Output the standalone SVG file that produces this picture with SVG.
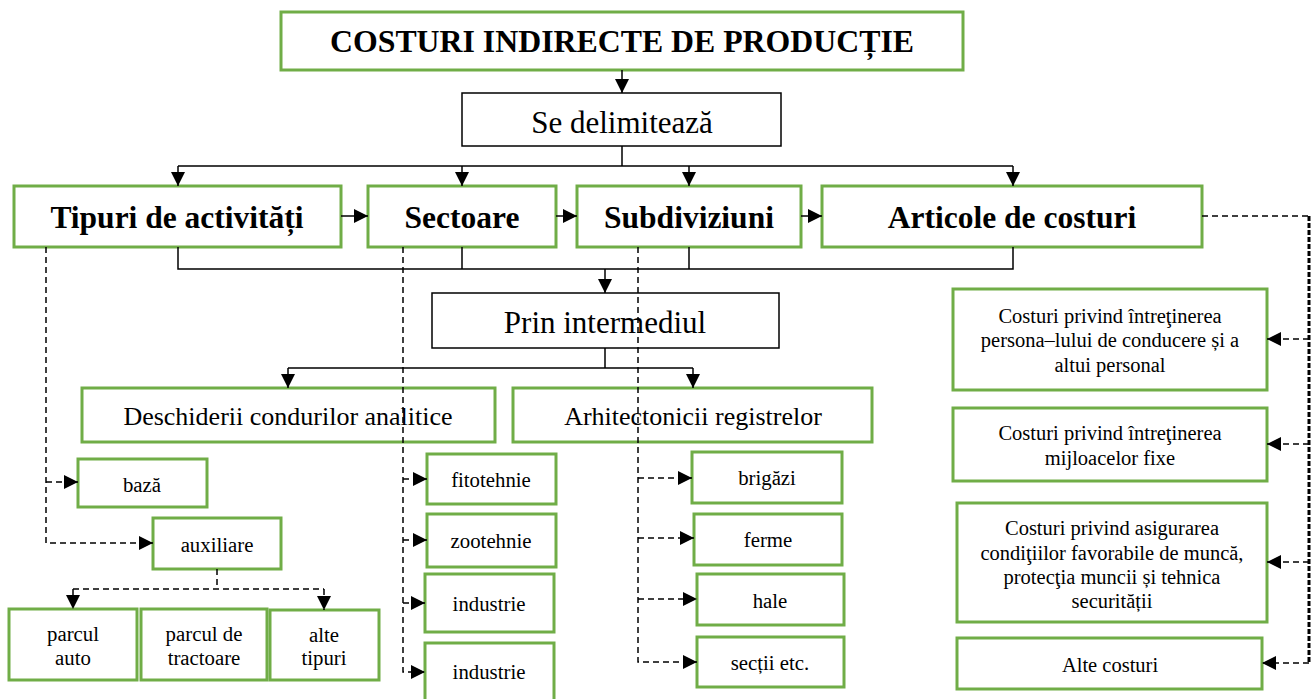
<svg xmlns="http://www.w3.org/2000/svg" width="1316" height="699" viewBox="0 0 1316 699">
<defs>
<marker id="ah" markerUnits="userSpaceOnUse" markerWidth="15" markerHeight="14" refX="14" refY="7" orient="auto">
<path d="M0,0 L14,7 L0,14 Z" fill="#000"/>
</marker>
<style>
.g{fill:#fff;stroke:#70ad47;stroke-width:3}
.b{fill:#fff;stroke:#000;stroke-width:1.5}
text{font-family:"Liberation Serif","Times New Roman",serif;fill:#000;text-anchor:middle}
.t1{font-size:31.8px;font-weight:bold}
.t2{font-size:31.5px;font-weight:bold}
.t3{font-size:31px}
.t4{font-size:26px}
.t5{font-size:20.8px}
.t6{font-size:20.5px}
.s{fill:none;stroke:#000;stroke-width:1.5}
.d{fill:none;stroke:#000;stroke-width:1.5;stroke-dasharray:6,4}
.dv{fill:none;stroke:#000;stroke-width:3;stroke-dasharray:5,2}
</style>
</defs>
<rect width="1316" height="699" fill="#fff"/>
<g id="nodes">
<g id="n-title"><rect class="g" x="281" y="12" width="682" height="58"/><text class="t1" x="622" y="52">COSTURI INDIRECTE DE PRODUCȚIE</text></g>
<g id="n-delim"><rect class="b" x="462" y="93" width="319" height="53"/><text class="t3" x="622" y="133">Se delimitează</text></g>
<g id="n-tipuri"><rect class="g" x="14" y="186" width="327" height="61"/><text class="t2" x="177" y="228">Tipuri de activități</text></g>
<g id="n-sectoare"><rect class="g" x="368" y="186" width="188" height="61"/><text class="t2" x="462" y="228">Sectoare</text></g>
<g id="n-subdiv"><rect class="g" x="577" y="186" width="224" height="61"/><text class="t2" x="689" y="228">Subdiviziuni</text></g>
<g id="n-articole"><rect class="g" x="822" y="186" width="380" height="61"/><text class="t2" x="1012" y="228">Articole de costuri</text></g>
<g id="n-prin"><rect class="b" x="432" y="293" width="347" height="55"/><text class="t3" x="605" y="333">Prin intermediul</text></g>
<g id="n-desch"><rect class="g" x="82" y="388" width="413" height="54"/><text class="t4" x="288" y="425">Deschiderii condurilor analitice</text></g>
<g id="n-arhit"><rect class="g" x="513" y="388" width="359" height="54"/><text class="t4" x="693" y="425">Arhitectonicii registrelor</text></g>
<g id="n-baza"><rect class="g" x="78" y="459" width="129" height="48"/><text class="t5" x="142" y="492">bază</text></g>
<g id="n-aux"><rect class="g" x="153" y="518" width="128" height="51"/><text class="t5" x="217" y="552">auxiliare</text></g>
<g id="n-pauto"><rect class="g" x="9" y="609" width="128" height="71"/><text class="t5" x="73" y="641">parcul</text><text class="t5" x="73" y="665">auto</text></g>
<g id="n-ptract"><rect class="g" x="141" y="609" width="126" height="71"/><text class="t5" x="204" y="641">parcul de</text><text class="t5" x="204" y="665">tractoare</text></g>
<g id="n-alte"><rect class="g" x="270" y="610" width="109" height="70"/><text class="t5" x="324" y="642">alte</text><text class="t5" x="324" y="665">tipuri</text></g>
<g id="n-fito"><rect class="g" x="427" y="454" width="129" height="50"/><text class="t5" x="491" y="487">fitotehnie</text></g>
<g id="n-zoo"><rect class="g" x="427" y="514" width="129" height="53"/><text class="t5" x="491" y="548">zootehnie</text></g>
<g id="n-ind1"><rect class="g" x="425" y="574" width="129" height="58"/><text class="t5" x="489" y="611">industrie</text></g>
<g id="n-ind2"><rect class="g" x="425" y="643" width="129" height="60"/><text class="t5" x="489" y="679">industrie</text></g>
<g id="n-brig"><rect class="g" x="692" y="452" width="150" height="51"/><text class="t5" x="767" y="485">brigăzi</text></g>
<g id="n-ferme"><rect class="g" x="694" y="514" width="148" height="51"/><text class="t5" x="768" y="547">ferme</text></g>
<g id="n-hale"><rect class="g" x="697" y="574" width="147" height="51"/><text class="t5" x="770" y="608">hale</text></g>
<g id="n-sectii"><rect class="g" x="697" y="637" width="147" height="50"/><text class="t5" x="770" y="670">secții etc.</text></g>
<g id="n-c1"><rect class="g" x="953" y="289" width="314" height="101"/><text class="t6" x="1110" y="323">Costuri privind întreţinerea</text><text class="t6" x="1110" y="347">persona–lului de conducere și a</text><text class="t6" x="1110" y="372">altui personal</text></g>
<g id="n-c2"><rect class="g" x="953" y="408" width="314" height="73"/><text class="t6" x="1110" y="440">Costuri privind întreţinerea</text><text class="t6" x="1110" y="465">mijloacelor fixe</text></g>
<g id="n-c3"><rect class="g" x="957" y="503" width="310" height="119"/><text class="t6" x="1112" y="535">Costuri privind asigurarea</text><text class="t6" x="1112" y="560">condiţiilor favorabile de muncă,</text><text class="t6" x="1112" y="584">protecţia muncii și tehnica</text><text class="t6" x="1112" y="608">securității</text></g>
<g id="n-c4"><rect class="g" x="957" y="638" width="305" height="51"/><text class="t6" x="1110" y="672">Alte costuri</text></g>
</g>
<g id="connectors">
<path class="s" d="M622,70 V93" marker-end="url(#ah)"/>
<path class="s" d="M622,146 V166 M178,166 H1013"/>
<path class="s" d="M178,166 V186" marker-end="url(#ah)"/>
<path class="s" d="M462,166 V186" marker-end="url(#ah)"/>
<path class="s" d="M689,166 V186" marker-end="url(#ah)"/>
<path class="s" d="M1013,166 V186" marker-end="url(#ah)"/>
<path class="s" d="M341,216 H368" marker-end="url(#ah)"/>
<path class="s" d="M556,216 H577" marker-end="url(#ah)"/>
<path class="s" d="M801,216 H822" marker-end="url(#ah)"/>
<path class="s" d="M178,247 V269 H1013 V247 M462,247 V269 M689,247 V269"/>
<path class="s" d="M605,269 V293" marker-end="url(#ah)"/>
<path class="s" d="M605,348 V368 M288,368 H693"/>
<path class="s" d="M288,368 V388" marker-end="url(#ah)"/>
<path class="s" d="M693,368 V388" marker-end="url(#ah)"/>
<path class="d" d="M46,247 V543 H153" marker-end="url(#ah)"/>
<path class="d" d="M46,482 H78" marker-end="url(#ah)"/>
<path class="d" d="M217,569 V589 M73,589 H324"/>
<path class="d" d="M73,589 V609" marker-end="url(#ah)"/>
<path class="d" d="M324,589 V610" marker-end="url(#ah)"/>
<path class="d" d="M403,247 V672 H425" marker-end="url(#ah)"/>
<path class="d" d="M403,479 H427" marker-end="url(#ah)"/>
<path class="d" d="M403,540 H427" marker-end="url(#ah)"/>
<path class="d" d="M403,603 H425" marker-end="url(#ah)"/>
<path class="d" d="M638,247 V662 H697" marker-end="url(#ah)"/>
<path class="d" d="M638,478 H692" marker-end="url(#ah)"/>
<path class="d" d="M638,538 H694" marker-end="url(#ah)"/>
<path class="d" d="M638,599 H697" marker-end="url(#ah)"/>
<path class="d" d="M1202,216 H1309"/>
<path class="dv" d="M1309,216 V663"/>
<path class="d" d="M1309,339 H1267" marker-end="url(#ah)"/>
<path class="d" d="M1309,444 H1267" marker-end="url(#ah)"/>
<path class="d" d="M1309,562 H1267" marker-end="url(#ah)"/>
<path class="d" d="M1309,663 H1262" marker-end="url(#ah)"/>
</g>
</svg>
